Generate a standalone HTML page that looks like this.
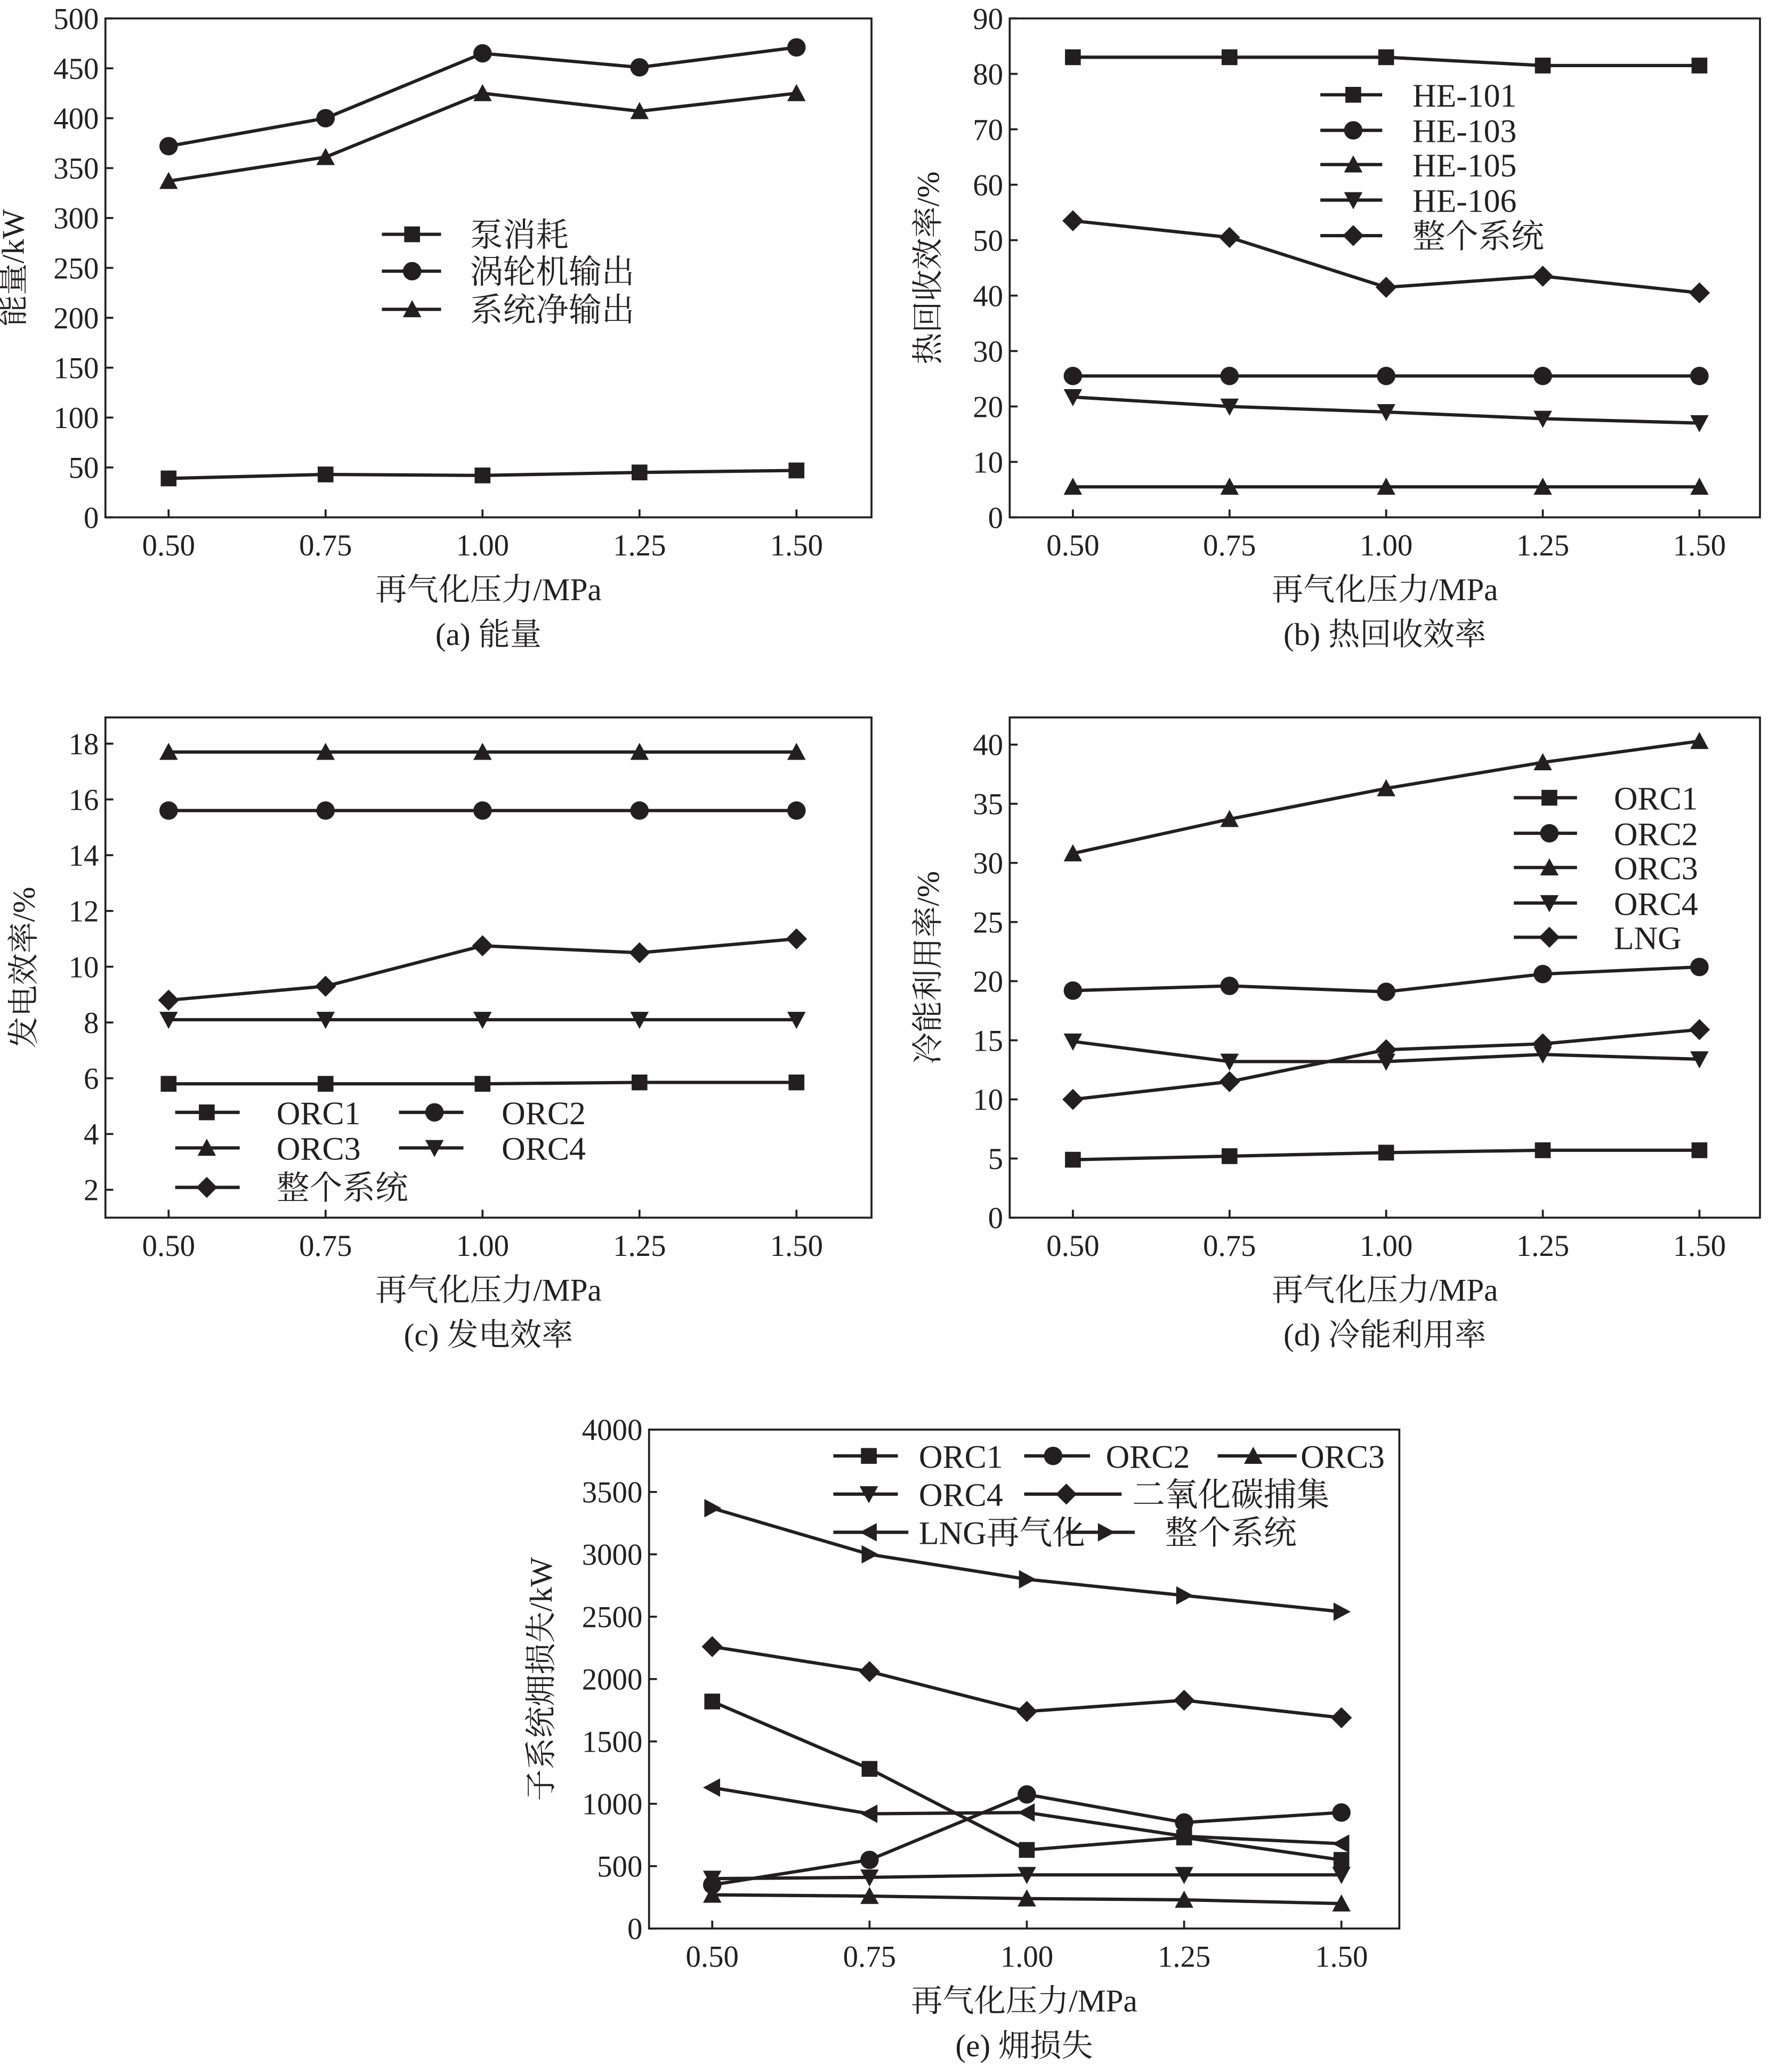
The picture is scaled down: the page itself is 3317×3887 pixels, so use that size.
<!DOCTYPE html>
<html><head><meta charset="utf-8">
<style>
html,body{margin:0;padding:0;background:#fff;}
svg{display:block;}
text{font-family:"Liberation Serif","Noto Serif CJK SC",serif;fill:#231f20;}
</style></head>
<body>
<svg id="fig" width="3317" height="3887" viewBox="0 0 1343 1574" xmlns="http://www.w3.org/2000/svg"></svg>
<script>
const xCats=[0.50,0.75,1.00,1.25,1.50];
const xLabels=["0.50","0.75","1.00","1.25","1.50"];
// panel a
const aPump=[39,43,42,45,47];
const aTurbine=[372,400,465,451,471];
const aNet=[337,361,425,407,425];
const aTicks=[0,50,100,150,200,250,300,350,400,450,500];
// panel b
const bHE101=[83,83,83,81.5,81.5];
const bHE103=[25.5,25.5,25.5,25.5,25.5];
const bHE105=[5.5,5.5,5.5,5.5,5.5];
const bHE106=[21.7,20,19,17.8,17];
const bSystem=[53.5,50.5,41.5,43.5,40.5];
const bTicks=[0,10,20,30,40,50,60,70,80,90];
// panel c
const cORC1=[5.8,5.8,5.8,5.85,5.85];
const cORC2=[15.6,15.6,15.6,15.6,15.6];
const cORC3=[17.7,17.7,17.7,17.7,17.7];
const cORC4=[8.1,8.1,8.1,8.1,8.1];
const cSystem=[8.8,9.3,10.75,10.5,11];
const cTicks=[2,4,6,8,10,12,14,16,18];
// panel d
const dORC1=[4.9,5.2,5.5,5.7,5.7];
const dORC2=[19.2,19.6,19.1,20.6,21.2];
const dORC3=[30.8,33.7,36.3,38.5,40.3];
const dORC4=[14.9,13.2,13.2,13.8,13.4];
const dLNG=[10,11.5,14.2,14.7,15.9];
const dTicks=[0,5,10,15,20,25,30,35,40];
// panel e
const eORC1=[1820,1280,630,730,550];
const eORC2=[350,550,1075,850,930];
const eORC3=[270,260,240,230,200];
const eORC4=[400,410,430,430,430];
const eCO2=[2260,2060,1740,1830,1690];
const eLNG=[1130,920,930,740,680];
const eSystem=[3370,3000,2800,2670,2540];
const eTicks=[0,500,1000,1500,2000,2500,3000,3500,4000];

const NS="http://www.w3.org/2000/svg";
const svg=document.getElementById('fig');
function el(tag,attrs,parent){const e=document.createElementNS(NS,tag);for(const k in attrs)e.setAttribute(k,attrs[k]);(parent||svg).appendChild(e);return e;}
function txt(s,x,y,size,anchor,parent){const t=el('text',{x:x,y:y,'font-size':size,'text-anchor':anchor||'middle'},parent);t.textContent=s;return t;}

function marker(g,type,x,y){
  let m;
  if(type==='square') m=el('rect',{x:x-6,y:y-6,width:12,height:12,fill:'#231f20'},g);
  else if(type==='circle') m=el('circle',{cx:x,cy:y,r:7,fill:'#231f20'},g);
  else if(type==='up') m=el('polygon',{points:`${x},${y-7} ${x-7},${y+6} ${x+7},${y+6}`,fill:'#231f20'},g);
  else if(type==='down') m=el('polygon',{points:`${x},${y+7} ${x-7},${y-6} ${x+7},${y-6}`,fill:'#231f20'},g);
  else if(type==='diamond') m=el('polygon',{points:`${x},${y-8} ${x+8},${y} ${x},${y+8} ${x-8},${y}`,fill:'#231f20'},g);
  else if(type==='left') m=el('polygon',{points:`${x-7},${y} ${x+6},${y-7} ${x+6},${y+7}`,fill:'#231f20'},g);
  else if(type==='right') m=el('polygon',{points:`${x+7},${y} ${x-6},${y-7} ${x-6},${y+7}`,fill:'#231f20'},g);
  
  
}

function panel(p){
  const g=el('g',{});
  
  
  const X=v=>p.x0+(v-0.5)/(1.0)*(p.x1-p.x0);
  const Y=v=>p.B-(v-p.ymin)/(p.ymax-p.ymin)*(p.B-p.T);
  const fr=el('rect',{x:p.L,y:p.T,width:p.R-p.L,height:p.B-p.T,fill:'none',stroke:'#231f20','stroke-width':1.5},g);
  
  
  p.yticks.forEach(v=>{
    const y=Y(v);
    const tk=el('line',{x1:p.L,y1:y,x2:p.L+6,y2:y,stroke:'#231f20','stroke-width':1.5},g);
    
    
    const t=txt(String(v),p.L-5,y+8,23,'end',g);
    
    
  });
  xCats.forEach((c,i)=>{
    const x=X(c);
    const tk=el('line',{x1:x,y1:p.B,x2:x,y2:p.B-6,stroke:'#231f20','stroke-width':1.5},g);
    
    
    const t=txt(xLabels[i],x,p.B+29,23,'middle',g);
    
    
  });
  const xt=txt('再气化压力/MPa',(p.L+p.R)/2,p.B+63,24,'middle',g);
  
  
  const cap=txt(p.caption,(p.L+p.R)/2,p.B+97,24,'middle',g);
  
  
  const yt=txt(p.ytitle,0,0,24,'middle',g);
  yt.setAttribute('transform',`translate(${p.L-p.ytOff},${(p.T+p.B)/2}) rotate(-90)`);
  
  
  p.series.forEach(s=>{
    const sg=el('g',{},g);
    
    
    const pts=s.data.map((v,i)=>X(xCats[i])+','+Y(v)).join(' ');
    const pl=el('polyline',{points:pts,fill:'none',stroke:'#231f20','stroke-width':2.5},sg);
    
    
    s.data.forEach((v,i)=>marker(sg,s.m,X(xCats[i]),Y(v)));
    const lg=el('g',{},g);
    
    
    const [lx1,lx2,mx,tx,ly]=s.leg;
    el('line',{x1:lx1,y1:ly,x2:lx2,y2:ly,stroke:'#231f20','stroke-width':2.5},lg);
    marker(lg,s.m,mx,ly);
    txt(s.label,tx,ly+9,25,'start',lg);
  });
}

panel({name:'panel-a-energy',L:80,R:662,T:14,B:393,x0:128,x1:605,ymin:0,ymax:500,yticks:aTicks,
  ytitle:'能量/kW',ytOff:62,caption:'(a) 能量',series:[
  {label:'泵消耗',data:aPump,m:'square',leg:[290,335,313,357,178]},
  {label:'涡轮机输出',data:aTurbine,m:'circle',leg:[290,335,313,357,206]},
  {label:'系统净输出',data:aNet,m:'up',leg:[290,335,313,357,235]}]});

panel({name:'panel-b-heat-recovery',L:767,R:1337,T:14,B:393,x0:815,x1:1291,ymin:0,ymax:90,yticks:bTicks,
  ytitle:'热回收效率/%',ytOff:54,caption:'(b) 热回收效率',series:[
  {label:'HE-101',data:bHE101,m:'square',leg:[1003,1050,1028,1073,72]},
  {label:'HE-103',data:bHE103,m:'circle',leg:[1003,1050,1028,1073,99]},
  {label:'HE-105',data:bHE105,m:'up',leg:[1003,1050,1028,1073,125]},
  {label:'HE-106',data:bHE106,m:'down',leg:[1003,1050,1028,1073,152]},
  {label:'整个系统',data:bSystem,m:'diamond',leg:[1003,1050,1028,1073,179]}]});

panel({name:'panel-c-power-efficiency',L:80,R:662,T:545,B:925,x0:128,x1:605,ymin:1.0,ymax:18.94,yticks:cTicks,
  ytitle:'发电效率/%',ytOff:54,caption:'(c) 发电效率',series:[
  {label:'ORC1',data:cORC1,m:'square',leg:[133,182,157,210,845]},
  {label:'ORC2',data:cORC2,m:'circle',leg:[303,352,330,381,845]},
  {label:'ORC3',data:cORC3,m:'up',leg:[133,182,157,210,872]},
  {label:'ORC4',data:cORC4,m:'down',leg:[303,352,330,381,872]},
  {label:'整个系统',data:cSystem,m:'diamond',leg:[133,182,157,210,902]}]});

panel({name:'panel-d-cold-energy',L:767,R:1337,T:545,B:925,x0:815,x1:1291,ymin:0,ymax:42.3,yticks:dTicks,
  ytitle:'冷能利用率/%',ytOff:54,caption:'(d) 冷能利用率',series:[
  {label:'ORC1',data:dORC1,m:'square',leg:[1150,1198,1177,1226,606]},
  {label:'ORC2',data:dORC2,m:'circle',leg:[1150,1198,1177,1226,633]},
  {label:'ORC3',data:dORC3,m:'up',leg:[1150,1198,1177,1226,659]},
  {label:'ORC4',data:dORC4,m:'down',leg:[1150,1198,1177,1226,686]},
  {label:'LNG',data:dLNG,m:'diamond',leg:[1150,1198,1177,1226,712]}]});

panel({name:'panel-e-exergy-loss',L:493,R:1063,T:1086,B:1465,x0:541,x1:1019,ymin:0,ymax:4000,yticks:eTicks,
  ytitle:'子系统㶲损失/kW',ytOff:74,caption:'(e) 㶲损失',series:[
  {label:'ORC1',data:eORC1,m:'square',leg:[633,682,660,698,1106]},
  {label:'ORC2',data:eORC2,m:'circle',leg:[778,828,800,840,1106]},
  {label:'ORC3',data:eORC3,m:'up',leg:[925,985,952,988,1106]},
  {label:'ORC4',data:eORC4,m:'down',leg:[633,682,660,698,1135]},
  {label:'二氧化碳捕集',data:eCO2,m:'diamond',leg:[778,852,810,860,1135]},
  {label:'LNG再气化',data:eLNG,m:'left',leg:[633,690,660,698,1164]},
  {label:'整个系统',data:eSystem,m:'right',leg:[810,862,840,885,1164]}]});
</script>
</body></html>
